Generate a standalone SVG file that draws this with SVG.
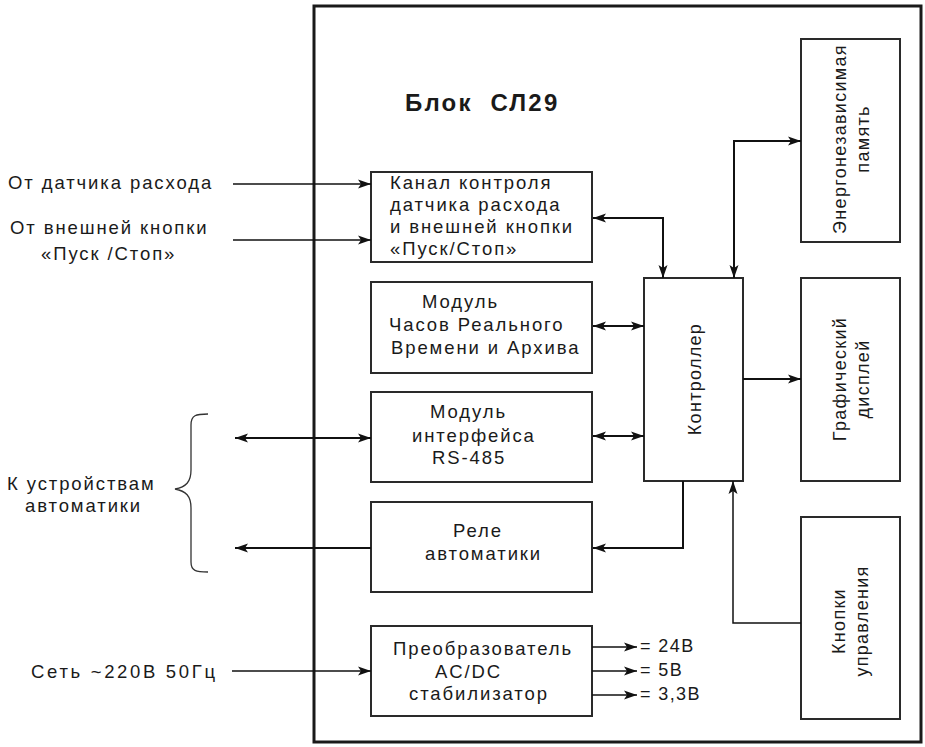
<svg xmlns="http://www.w3.org/2000/svg" width="925" height="747" viewBox="0 0 925 747">
<style>
text{font-family:"Liberation Sans",Arial,sans-serif;font-size:18.5px;letter-spacing:1.9px;fill:#1a1a1a}
.v{font-size:18px;letter-spacing:1.3px}
.o{font-size:18px;letter-spacing:1.4px}
.title{font-size:24px;font-weight:bold;letter-spacing:2.2px}
.box{fill:#fff;stroke:#2a2a2a;stroke-width:2}
.frame{fill:none;stroke:#1a1a1a;stroke-width:3}
.c{fill:none;stroke:#111;stroke-width:2}
.ce{fill:none;stroke:#111;stroke-width:1.5}
.br{fill:none;stroke:#333;stroke-width:1.3}
</style>
<defs>
<marker id="ah" markerUnits="userSpaceOnUse" markerWidth="13" markerHeight="10" refX="13" refY="5" orient="auto-start-reverse"><path d="M0,0.5 L13,5 L0,9.5 L3,5 z" fill="#111"/></marker>
</defs>
<rect width="925" height="747" fill="#fff"/>
<g id="frame"><rect class="frame" x="314" y="6" width="607" height="736"/></g>
<g id="title"><text class="title" x="405" y="111" xml:space="preserve">Блок  СЛ29</text></g>

<g id="kanal"><rect class="box" x="371" y="172" width="221" height="90"/>
<text x="390" y="189">Канал контроля</text><text x="390" y="211">датчика расхода</text><text x="390" y="233">и внешней кнопки</text><text x="390" y="255">«Пуск/Стоп»</text></g>
<g id="chasy"><rect class="box" x="371" y="282" width="221" height="91"/>
<text x="422" y="308">Модуль</text><text x="389" y="331">Часов Реального</text><text x="391" y="354">Времени и Архива</text></g>
<g id="interface"><rect class="box" x="371" y="392" width="221" height="90"/>
<text x="430" y="418">Модуль</text><text x="412" y="442">интерфейса</text><text x="432" y="464">RS-485</text></g>
<g id="rele"><rect class="box" x="371" y="502" width="221" height="90"/>
<text x="453" y="537">Реле</text><text x="425" y="560">автоматики</text></g>
<g id="preobr"><rect class="box" x="371" y="626" width="221" height="90"/>
<text x="393" y="655">Преобразователь</text><text x="435" y="678">AC/DC</text><text x="409" y="700">стабилизатор</text></g>
<g id="controller"><rect class="box" x="644" y="278" width="99" height="203"/>
<text class="v" transform="translate(701,379) rotate(-90)" text-anchor="middle">Контроллер</text></g>
<g id="memory"><rect class="box" x="801" y="39" width="99" height="203"/>
<text class="v" transform="translate(846,139) rotate(-90)" text-anchor="middle">Энергонезависимая</text><text class="v" transform="translate(869,139) rotate(-90)" text-anchor="middle">память</text></g>
<g id="display"><rect class="box" x="801" y="278" width="99" height="203"/>
<text class="v" transform="translate(846,379) rotate(-90)" text-anchor="middle">Графический</text><text class="v" transform="translate(869,379) rotate(-90)" text-anchor="middle">дисплей</text></g>
<g id="knopki"><rect class="box" x="801" y="517" width="99" height="202"/>
<text class="v" transform="translate(845,621) rotate(-90)" text-anchor="middle">Кнопки</text><text class="v" transform="translate(868,621) rotate(-90)" text-anchor="middle">управления</text></g>

<g id="labels">
<text x="8" y="189">От датчика расхода</text>
<text x="10" y="234">От внешней кнопки</text>
<text x="41" y="260">«Пуск /Стоп»</text>
<text x="7" y="490">К устройствам</text>
<text x="25" y="512">автоматики</text>
<text x="31" y="678" textLength="186" lengthAdjust="spacing">Сеть ~220В 50Гц</text>
<text class="o" x="640" y="652" xml:space="preserve">= 24В</text>
<text class="o" x="640" y="676" xml:space="preserve">= 5В</text>
<text class="o" x="640" y="700" xml:space="preserve">= 3,3В</text>
</g>

<g id="connectors">
<path class="ce" d="M233,184 H371" marker-end="url(#ah)"/>
<path class="ce" d="M233,240 H371" marker-end="url(#ah)"/>
<path class="c" d="M235,438 H371" marker-start="url(#ah)" marker-end="url(#ah)"/>
<path class="c" d="M371,548 H235" marker-end="url(#ah)"/>
<path class="ce" d="M232,671 H371" marker-end="url(#ah)"/>
<path class="ce" d="M592,647 H637" marker-end="url(#ah)"/>
<path class="ce" d="M592,671 H637" marker-end="url(#ah)"/>
<path class="ce" d="M592,695 H637" marker-end="url(#ah)"/>
<path class="c" d="M593,218 H663 V278" marker-start="url(#ah)" marker-end="url(#ah)"/>
<path class="c" d="M734,278 V141 H801" marker-start="url(#ah)" marker-end="url(#ah)"/>
<path class="c" d="M593,326 H644" marker-start="url(#ah)" marker-end="url(#ah)"/>
<path class="c" d="M593,436 H644" marker-start="url(#ah)" marker-end="url(#ah)"/>
<path class="c" d="M743,379 H801" marker-end="url(#ah)"/>
<path class="c" d="M683,481 V548 H593" marker-end="url(#ah)"/>
<path class="ce" d="M801,623 H733 V481" marker-end="url(#ah)"/>
<path class="br" d="M208,414 C196,414 191,415 191,425 V470 C191,482 186,487 175,489 C186,491 191,496 191,508 V562 C191,571 196,572 208,572"/>
</g>
</svg>
